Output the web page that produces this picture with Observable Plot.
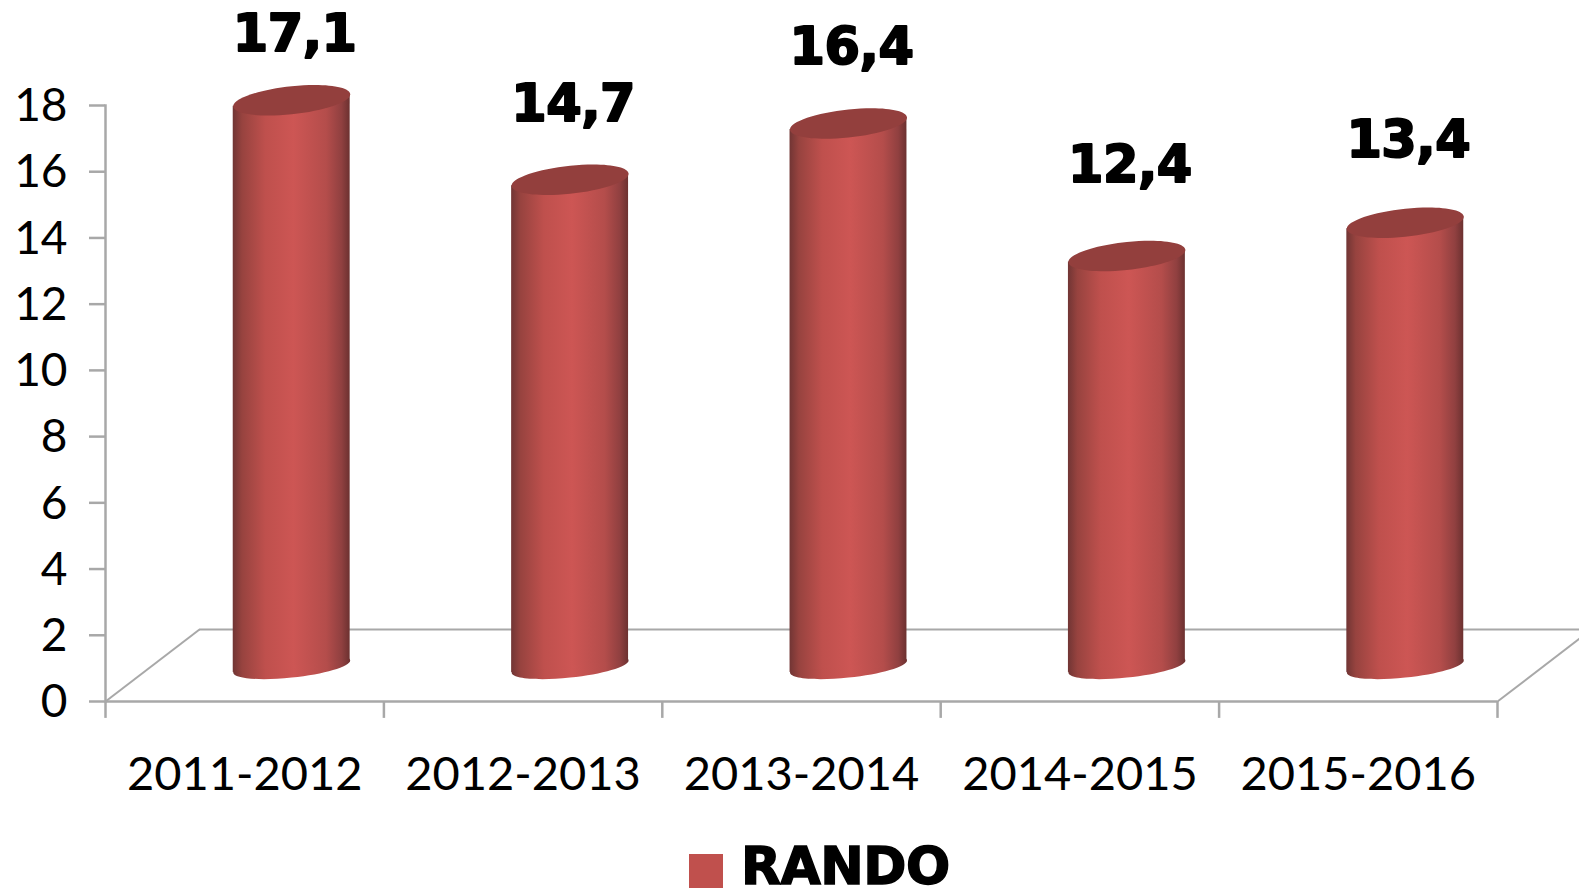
<!DOCTYPE html>
<html>
<head>
<meta charset="utf-8">
<script src="https://cdn.jsdelivr.net/npm/d3@7"></script>
<script src="https://cdn.jsdelivr.net/npm/@observablehq/plot@0.6"></script>
<style>
  html, body { margin: 0; padding: 0; background: #fff; overflow: hidden; }
  #chart svg { display: block; background: #fff; }
  g[aria-label="bar"] rect {
    transform-box: fill-box;
    transform-origin: center;
    transform: skewY(-5.86deg);
  }
  g[aria-label="text"] text { letter-spacing: -0.5px; }
  #legend { height: 49px; position: relative; }
  #legend .swatch { position: absolute; left: 689px; top: 14px; width: 34px; height: 34px; background: #c0504d; }
  #legend .name {
    position: absolute; left: 741px; top: 3px;
    font: bold 52px/46px "DejaVu Sans", sans-serif; color: #000;
    -webkit-text-stroke: 1.5px #000;
    letter-spacing: -0.5px;
  }
</style>
</head>
<body>
<div id="chart"></div>
<div id="legend"><span class="swatch"></span><span class="name">RANDO</span></div>
<script>
const seasons = ["2011-2012", "2012-2013", "2013-2014", "2014-2015", "2015-2016"];
const rando = [17.1, 14.7, 16.4, 12.4, 13.4];
const yTicks = [0, 2, 4, 6, 8, 10, 12, 14, 16, 18];
const labelLift = [1.39, 1.69, 1.72, 2.14, 1.90]; // hand-placed label height above each bar, in axis units

const rows = seasons.map((season, i) => ({ season, value: rando[i], lift: labelLift[i] }));

// 3D projection of the chart: depth offset of the floor, cylinders stand half way in
const depthX = 94, depthY = 72, halfStep = 139.2;
const axisGrey = "#a8a8a8";

function shearedEllipse(ratio) {
  const k = 0.5523, shear = 0.1026;
  return {
    draw(ctx, size) {
      const a = Math.sqrt(size / Math.PI), b = a * ratio;
      const P = (x, y) => [x, y - shear * x];
      const curve = (c1, c2, e) => ctx.bezierCurveTo(...P(...c1), ...P(...c2), ...P(...e));
      ctx.moveTo(...P(a, 0));
      curve([a, k * b], [k * a, b], [0, b]);
      curve([-k * a, b], [-a, k * b], [-a, 0]);
      curve([-a, -k * b], [-k * a, -b], [0, -b]);
      curve([k * a, -b], [a, -k * b], [a, 0]);
      ctx.closePath();
    }
  };
}
const diagonal = {
  draw(ctx) { ctx.moveTo(0, 0); ctx.lineTo(depthX, -depthY); }
};

const gradient = () => d3.create("svg:defs").html(`
  <linearGradient id="cyl" x1="0" x2="1" y1="0" y2="0">
    <stop offset="0" stop-color="#713534"/>
    <stop offset="0.08" stop-color="#97433f"/>
    <stop offset="0.28" stop-color="#bf504d"/>
    <stop offset="0.52" stop-color="#cd5654"/>
    <stop offset="0.8" stop-color="#b44d4b"/>
    <stop offset="0.93" stop-color="#904040"/>
    <stop offset="1" stop-color="#6c3130"/>
  </linearGradient>`).node();

const barR = 58.5;
const chart = Plot.plot({
  width: 1579,
  height: 840,
  marginLeft: 105,
  marginRight: 82,
  marginTop: 105,
  marginBottom: 139,
  style: { fontFamily: "Lato, sans-serif", background: "#fff", color: "#000" },
  x: { domain: seasons, paddingInner: 0.58, paddingOuter: 0.29, round: false, label: null },
  y: { domain: [0, 18], label: null },
  marks: [
    gradient,
    // floor
    Plot.ruleY([0], { stroke: axisGrey, strokeWidth: 2, dx: depthX, dy: -depthY }),
    Plot.dot([seasons[0]], { x: d => d, y: () => 0, dx: -halfStep, symbol: diagonal, r: 1, fill: "none", stroke: axisGrey, strokeWidth: 2 }),
    Plot.dot([seasons[4]], { x: d => d, y: () => 0, dx: halfStep, symbol: diagonal, r: 1, fill: "none", stroke: axisGrey, strokeWidth: 2 }),
    // axes
    Plot.ruleY([0], { stroke: axisGrey, strokeWidth: 2.5 }),
    Plot.frame({ anchor: "left", stroke: axisGrey, strokeWidth: 2.5 }),
    Plot.ruleX(seasons, { x: d => d, y1: 0, y2: -0.51, dx: -halfStep, stroke: axisGrey, strokeWidth: 2.5 }),
    Plot.ruleX([seasons[4]], { x: d => d, y1: 0, y2: -0.51, dx: halfStep, stroke: axisGrey, strokeWidth: 2.5 }),
    Plot.axisY({ ticks: yTicks, tickSize: 16, stroke: axisGrey, strokeWidth: 2.5, fill: "none", label: null }),
    Plot.axisY({ ticks: yTicks, tickSize: 0, tickPadding: 38, dy: 1, fill: "#000", fontSize: 46, label: null, tickFormat: d => d }),
    Plot.axisX({ tickSize: 0, tickPadding: 55, fill: "#000", fontSize: 47, label: null }),
    // cylinders
    Plot.dot(rows, { x: "season", y: () => 0, dx: depthX / 2, dy: -35, r: barR, symbol: shearedEllipse(0.19), fill: "url(#cyl)", stroke: "none" }),
    Plot.barY(rows, { x: "season", y1: () => 0, y2: "value", dx: depthX / 2, dy: -35, fill: "url(#cyl)" }),
    Plot.dot(rows, { x: "season", y: "value", dx: depthX / 2, dy: -35, r: barR, symbol: shearedEllipse(0.24), fill: "#933f3d", stroke: "none" }),
    // value labels
    Plot.text(rows, {
      x: "season",
      y: d => d.value + d.lift,
      text: d => String(d.value).replace(".", ","),
      dx: 50,
      dy: -38,
      lineAnchor: "bottom",
      fontFamily: "'DejaVu Sans', sans-serif",
      fontWeight: "bold",
      fontSize: 51,
      fill: "#000",
      stroke: "#000",
      strokeWidth: 2
    })
  ]
});
document.getElementById("chart").append(chart);
</script>
</body>
</html>
